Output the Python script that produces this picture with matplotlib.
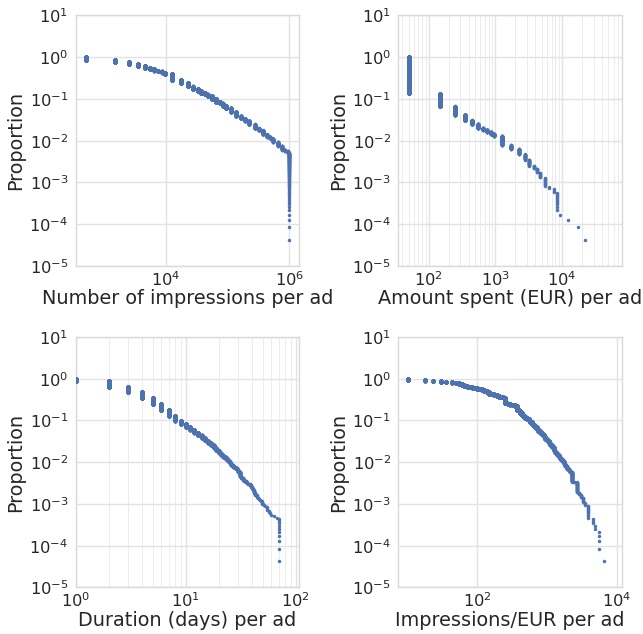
import numpy as np
import matplotlib
matplotlib.use("Agg")
import matplotlib.pyplot as plt
from matplotlib import ticker

# ---------------- data ----------------
N_ADS = 23500  # total number of ads

# Number of impressions per ad: distinct values and share of ads with value >= x
impressions_values = [500, 1500, 2500, 3500, 4500, 5500, 6500, 7500, 8500, 9500,
                      12500, 17500, 22500, 27500, 32500, 37500, 42500, 47500,
                      55000, 65000, 75000, 85000, 95000,
                      112500, 137500, 162500, 187500,
                      225000, 275000, 325000, 375000, 425000, 475000,
                      550000, 650000, 750000, 850000, 950000, 1000000]
impressions_ccdf = [1.0, 0.86, 0.77, 0.69, 0.63, 0.565, 0.52, 0.48, 0.455, 0.43,
                    0.40, 0.29, 0.238, 0.199, 0.175, 0.156, 0.14, 0.128,
                    0.116, 0.10, 0.085, 0.078, 0.068,
                    0.06, 0.049, 0.039, 0.034,
                    0.030, 0.0245, 0.0197, 0.0176, 0.0141, 0.0124,
                    0.0113, 0.0093, 0.0075, 0.0060, 0.0056, 0.0050]

# Amount spent (EUR) per ad
spent_values = [50, 150, 250, 350, 450, 550, 650, 750, 850, 950,
                1250, 1750, 2250, 2750, 3250, 3750, 4250, 4750,
                5500, 6500, 7500, 8500, 9500, 12500, 17500, 22500]
spent_ccdf = [1.0, 0.135, 0.066, 0.0416, 0.0305, 0.0249, 0.020, 0.0182, 0.0163, 0.0144,
              0.0129, 0.0078, 0.0063, 0.0047, 0.0035, 0.0025, 0.00216, 0.00172,
              0.00129, 0.00077, 0.00067, 0.00054, 0.000170, 0.000128, 0.0000851, 0.0000426]

# Duration (days) per ad
duration_values = [1, 2, 3, 4, 5, 6, 7, 8, 9, 10, 11, 12, 13, 14, 15, 16, 17, 18, 19, 20,
                   21, 22, 23, 24, 25, 26, 27, 28, 29, 30, 31, 32, 33, 34, 35, 36, 37, 38,
                   39, 40, 41, 42, 43, 44, 45, 46, 47, 48, 49, 50, 51, 53, 55, 57, 58, 59,
                   64, 67, 70, 71]
duration_ccdf = [1.0, 0.86, 0.63, 0.48, 0.34, 0.25, 0.18, 0.13, 0.099, 0.083, 0.070, 0.060,
                 0.051, 0.044, 0.038, 0.033, 0.029, 0.0255, 0.022, 0.019,
                 0.0165, 0.0148, 0.0132, 0.0116, 0.0104, 0.0093, 0.0084, 0.0077, 0.0071,
                 0.0065, 0.0058, 0.0045, 0.0041, 0.0037, 0.0034, 0.0032, 0.0030, 0.0029,
                 0.0027, 0.0025, 0.0023, 0.0021, 0.0018, 0.0016, 0.0014, 0.0013, 0.0012,
                 0.00115, 0.0011, 0.00095, 0.00090, 0.00085, 0.00080, 0.00065, 0.00055,
                 0.00050, 0.00047, 0.00044, 0.00042, 0.000383]

# Impressions / EUR per ad
ratio_values = [10, 18, 23.5, 30, 36, 43, 50, 55, 60, 65, 70, 77, 83, 90, 100, 108, 116,
                125, 136, 148, 161, 175, 190, 207, 224, 237, 250, 270, 294, 320, 347,
                367, 390, 410, 433, 457, 485, 511, 540, 570, 600, 636, 672, 711, 750,
                794, 840, 886, 935, 990, 1045, 1104, 1165, 1232, 1303, 1377, 1453,
                1537, 1625, 1715, 1813, 1915, 2023, 2140, 2260, 2460, 2667, 2812, 3000,
                3209, 3505, 3785, 4525, 4890, 5450, 5570, 6580]
ratio_ccdf = [1.0, 0.91, 0.905, 0.90, 0.83, 0.82, 0.81, 0.77, 0.73, 0.70, 0.67, 0.65,
              0.63, 0.615, 0.60, 0.58, 0.555, 0.53, 0.50, 0.47, 0.44, 0.42, 0.40, 0.38,
              0.365, 0.355, 0.35, 0.255, 0.25, 0.24, 0.23, 0.225, 0.175, 0.168, 0.15,
              0.135, 0.125, 0.116, 0.108, 0.10, 0.092, 0.083, 0.076, 0.069, 0.062,
              0.056, 0.051, 0.046, 0.041, 0.036, 0.033, 0.029, 0.026, 0.023, 0.019,
              0.017, 0.015, 0.0135, 0.012, 0.0107, 0.0092, 0.0080, 0.0069, 0.0063,
              0.0058, 0.0034, 0.0033, 0.0019, 0.0017, 0.00145, 0.0011, 0.00091,
              0.000426, 0.000298, 0.000213, 0.0000851, 0.0000426]

x_labels = ["Number of impressions per ad", "Amount spent (EUR) per ad",
            "Duration (days) per ad", "Impressions/EUR per ad"]

# ---------------- style ----------------
BLUE = "#4C72B0"
TEXT = "#262626"
plt.rcParams.update({
    "font.family": ["DejaVu Sans"],
    "font.size": 13.9,
    "axes.labelsize": 13.9,
    "xtick.labelsize": 11.7,
    "ytick.labelsize": 11.7,
    "text.color": TEXT,
    "axes.labelcolor": TEXT,
    "xtick.color": TEXT,
    "ytick.color": TEXT,
    "axes.edgecolor": "#d9d9d9",
    "axes.linewidth": 1.0,
    "xtick.major.size": 0, "ytick.major.size": 0,
    "xtick.minor.size": 0, "ytick.minor.size": 0,
    "xtick.major.pad": 3.0, "ytick.major.pad": 5.3,
})

fig = plt.figure(figsize=(6.43, 6.34), dpi=100)
W, H = 0.348, 0.395
positions = [(0.1177, 0.5806), (0.6194, 0.5806), (0.1177, 0.0735), (0.6194, 0.0735)]

datasets = [(impressions_values, impressions_ccdf),
            (spent_values, spent_ccdf),
            (duration_values, duration_ccdf),
            (ratio_values, ratio_ccdf)]
xlims = [(344, 1.45e6), (35, 80000), (1, 108), (7.36, 11800)]
major_x = [[1e4, 1e6], [1e2, 1e3, 1e4], [1e0, 1e1, 1e2], [1e2, 1e4]]
minor_on = [False, True, True, False]


def ccdf_points(values, ccdf, n_total):
    values = np.asarray(values, float)
    ccdf = np.asarray(ccdf, float)
    counts = np.round(-np.diff(np.append(ccdf, 0.0)) * n_total).astype(int)
    counts = np.maximum(counts, 1)
    xs = np.repeat(values, counts)
    n = counts.sum()
    ys = (n - np.arange(n)) / n
    return xs, ys


for i, (vals, cc) in enumerate(datasets):
    ax = fig.add_axes([positions[i][0], positions[i][1], W, H])
    ax.set_facecolor("white")
    xs, ys = ccdf_points(vals, cc, N_ADS)
    ax.plot(xs, ys, linestyle="none", marker="o", markersize=2.5,
            markeredgewidth=0, color=BLUE, zorder=3)
    ax.set_xscale("log")
    ax.set_yscale("log")
    ax.set_xlim(*xlims[i])
    ax.set_ylim(1e-5, 10)
    ax.yaxis.set_major_locator(ticker.LogLocator(base=10, numticks=20))
    ax.yaxis.set_minor_locator(ticker.NullLocator())
    ax.xaxis.set_major_locator(ticker.FixedLocator(major_x[i]))
    ax.xaxis.set_major_formatter(ticker.LogFormatterSciNotation())
    if minor_on[i]:
        ax.xaxis.set_minor_locator(ticker.LogLocator(base=10, subs=np.arange(2, 10), numticks=50))
        ax.xaxis.set_minor_formatter(ticker.NullFormatter())
        ax.grid(True, which="minor", axis="x", color="#ececec", linewidth=0.7, zorder=0)
    else:
        ax.xaxis.set_minor_locator(ticker.NullLocator())
    ax.grid(True, which="major", color="#e3e3e3", linewidth=1.0, zorder=0)
    ax.set_axisbelow(True)
    for s in ax.spines.values():
        s.set_color("#d9d9d9")
    ax.set_xlabel(x_labels[i], labelpad=0.3)
    ax.set_ylabel("Proportion", labelpad=3.0)

fig.savefig("out.png", dpi=100, facecolor="white")
